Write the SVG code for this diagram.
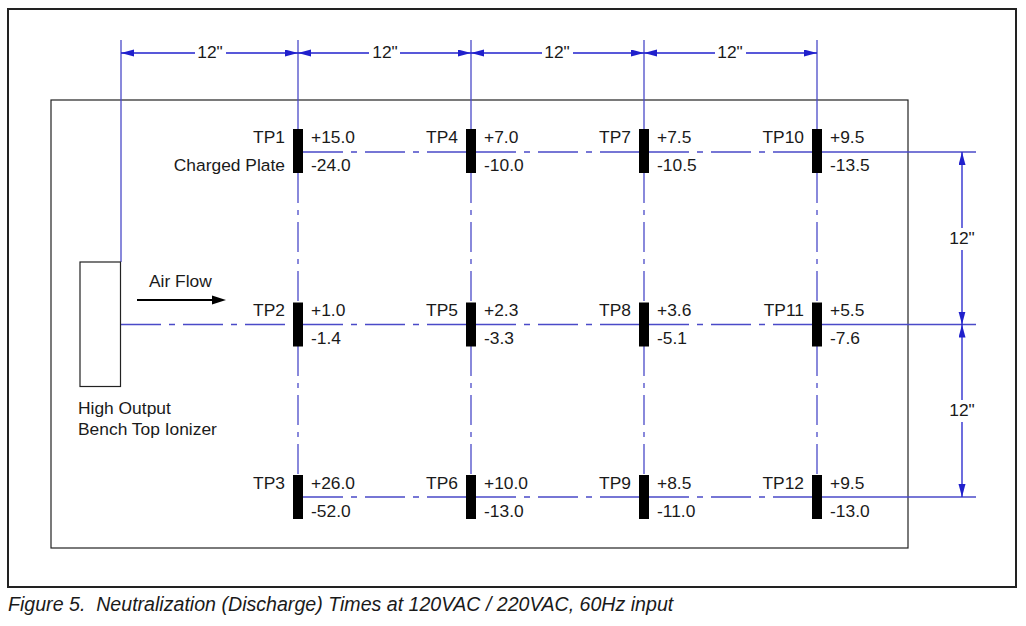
<svg xmlns="http://www.w3.org/2000/svg" width="1026" height="626" viewBox="0 0 1026 626">
<defs>
<style>
text{font-family:"Liberation Sans",Arial,sans-serif;font-size:17.4px;fill:#1a1a1a}
.r{text-anchor:end}
.m{text-anchor:middle}
.cap{font-style:italic;font-size:19.6px}
.grid{stroke:#4a4ac8;stroke-width:1.3;fill:none}
.dh{stroke-dasharray:40 8 6 8}
.dv{stroke-dasharray:30 7 5 7}
.dim{stroke:#2020cc;stroke-width:1.3;fill:none}
.dima{stroke:#2020cc;stroke-width:1.3;fill:none;marker-start:url(#ah);marker-end:url(#ah)}
.blk{fill:#000}
.frame{fill:none;stroke:#222}
</style>
<marker id="ah" markerUnits="userSpaceOnUse" markerWidth="14" markerHeight="8" refX="13" refY="3.5" orient="auto-start-reverse">
<path d="M0,0 L13,3.5 L0,7 z" fill="#2020cc"/>
</marker>
</defs>
<rect width="1026" height="626" fill="#fff"/>
<g id="frame">
<rect class="frame" x="8" y="9" width="1008" height="578" stroke-width="2"/>
<rect class="frame" x="51" y="100" width="857" height="448" stroke-width="1.2"/>
</g>
<g id="connectors">
<line class="grid" x1="121" y1="40" x2="121" y2="262"/>
<line class="grid" x1="298" y1="40" x2="298" y2="129"/>
<line class="grid" x1="471" y1="40" x2="471" y2="129"/>
<line class="grid" x1="644" y1="40" x2="644" y2="129"/>
<line class="grid" x1="817" y1="40" x2="817" y2="129"/>
<line class="grid dv" x1="298" y1="173" x2="298" y2="302"/>
<line class="grid dv" x1="298" y1="346" x2="298" y2="475"/>
<line class="grid dv" x1="471" y1="173" x2="471" y2="302"/>
<line class="grid dv" x1="471" y1="346" x2="471" y2="475"/>
<line class="grid dv" x1="644" y1="173" x2="644" y2="302"/>
<line class="grid dv" x1="644" y1="346" x2="644" y2="475"/>
<line class="grid dv" x1="817" y1="173" x2="817" y2="302"/>
<line class="grid dv" x1="817" y1="346" x2="817" y2="475"/>
<line class="grid dh" x1="303" y1="152" x2="466" y2="152"/>
<line class="grid dh" x1="476" y1="152" x2="639" y2="152"/>
<line class="grid dh" x1="649" y1="152" x2="812" y2="152"/>
<line class="grid" x1="822" y1="152" x2="976" y2="152"/>
<line class="grid dh" x1="121" y1="324.5" x2="293" y2="324.5"/>
<line class="grid dh" x1="303" y1="324.5" x2="466" y2="324.5"/>
<line class="grid dh" x1="476" y1="324.5" x2="639" y2="324.5"/>
<line class="grid dh" x1="649" y1="324.5" x2="812" y2="324.5"/>
<line class="grid" x1="822" y1="324.5" x2="976" y2="324.5"/>
<line class="grid dh" x1="303" y1="497" x2="466" y2="497"/>
<line class="grid dh" x1="476" y1="497" x2="639" y2="497"/>
<line class="grid dh" x1="649" y1="497" x2="812" y2="497"/>
<line class="grid" x1="822" y1="497" x2="976" y2="497"/>
<line class="dima" x1="121" y1="53" x2="298" y2="53"/>
<line class="dima" x1="298" y1="53" x2="471" y2="53"/>
<line class="dima" x1="471" y1="53" x2="644" y2="53"/>
<line class="dima" x1="644" y1="53" x2="817" y2="53"/>
<line class="dima" x1="962" y1="152" x2="962" y2="324.5"/>
<line class="dima" x1="962" y1="324.5" x2="962" y2="497"/>
</g>
<g id="dim-labels">
<rect x="195" y="42" width="31" height="20" fill="#fff"/>
<text class="m" x="210" y="58">12"</text>
<rect x="369" y="42" width="31" height="20" fill="#fff"/>
<text class="m" x="385" y="58">12"</text>
<rect x="542" y="42" width="31" height="20" fill="#fff"/>
<text class="m" x="557" y="58">12"</text>
<rect x="715" y="42" width="31" height="20" fill="#fff"/>
<text class="m" x="730" y="58">12"</text>
<rect x="946" y="228" width="32" height="22" fill="#fff"/>
<text class="m" x="962" y="244">12"</text>
<rect x="946" y="400" width="32" height="22" fill="#fff"/>
<text class="m" x="962" y="416">12"</text>
</g>
<g id="ionizer">
<rect x="80" y="262" width="40.5" height="124.5" fill="#fff" stroke="#222" stroke-width="1.2"/>
<text x="78" y="414">High Output</text>
<text x="78" y="435">Bench Top Ionizer</text>
</g>
<g id="airflow">
<text x="149" y="287">Air Flow</text>
<line x1="137" y1="300" x2="214" y2="300" stroke="#000" stroke-width="2"/>
<polygon points="212,295.5 226,300 212,304.5" fill="#000"/>
</g>
<g id="TP1"><rect class="blk" x="293" y="129" width="10" height="44"/><text class="r" x="285" y="143">TP1</text><text class="r" x="285" y="171">Charged Plate</text><text x="311" y="143">+15.0</text><text x="311" y="171">-24.0</text></g>
<g id="TP2"><rect class="blk" x="293" y="302.5" width="10" height="44"/><text class="r" x="285" y="315.5">TP2</text><text x="311" y="315.5">+1.0</text><text x="311" y="343.5">-1.4</text></g>
<g id="TP3"><rect class="blk" x="293" y="475" width="10" height="44"/><text class="r" x="285" y="489">TP3</text><text x="311" y="489">+26.0</text><text x="311" y="517">-52.0</text></g>
<g id="TP4"><rect class="blk" x="466" y="129" width="10" height="44"/><text class="r" x="458" y="143">TP4</text><text x="484" y="143">+7.0</text><text x="484" y="171">-10.0</text></g>
<g id="TP5"><rect class="blk" x="466" y="302.5" width="10" height="44"/><text class="r" x="458" y="315.5">TP5</text><text x="484" y="315.5">+2.3</text><text x="484" y="343.5">-3.3</text></g>
<g id="TP6"><rect class="blk" x="466" y="475" width="10" height="44"/><text class="r" x="458" y="489">TP6</text><text x="484" y="489">+10.0</text><text x="484" y="517">-13.0</text></g>
<g id="TP7"><rect class="blk" x="639" y="129" width="10" height="44"/><text class="r" x="631" y="143">TP7</text><text x="657" y="143">+7.5</text><text x="657" y="171">-10.5</text></g>
<g id="TP8"><rect class="blk" x="639" y="302.5" width="10" height="44"/><text class="r" x="631" y="315.5">TP8</text><text x="657" y="315.5">+3.6</text><text x="657" y="343.5">-5.1</text></g>
<g id="TP9"><rect class="blk" x="639" y="475" width="10" height="44"/><text class="r" x="631" y="489">TP9</text><text x="657" y="489">+8.5</text><text x="657" y="517">-11.0</text></g>
<g id="TP10"><rect class="blk" x="812" y="129" width="10" height="44"/><text class="r" x="804" y="143">TP10</text><text x="830" y="143">+9.5</text><text x="830" y="171">-13.5</text></g>
<g id="TP11"><rect class="blk" x="812" y="302.5" width="10" height="44"/><text class="r" x="804" y="315.5">TP11</text><text x="830" y="315.5">+5.5</text><text x="830" y="343.5">-7.6</text></g>
<g id="TP12"><rect class="blk" x="812" y="475" width="10" height="44"/><text class="r" x="804" y="489">TP12</text><text x="830" y="489">+9.5</text><text x="830" y="517">-13.0</text></g>
<g id="caption">
<text class="cap" x="8" y="611" xml:space="preserve">Figure 5.  Neutralization (Discharge) Times at 120VAC / 220VAC, 60Hz input</text>
</g>
</svg>
